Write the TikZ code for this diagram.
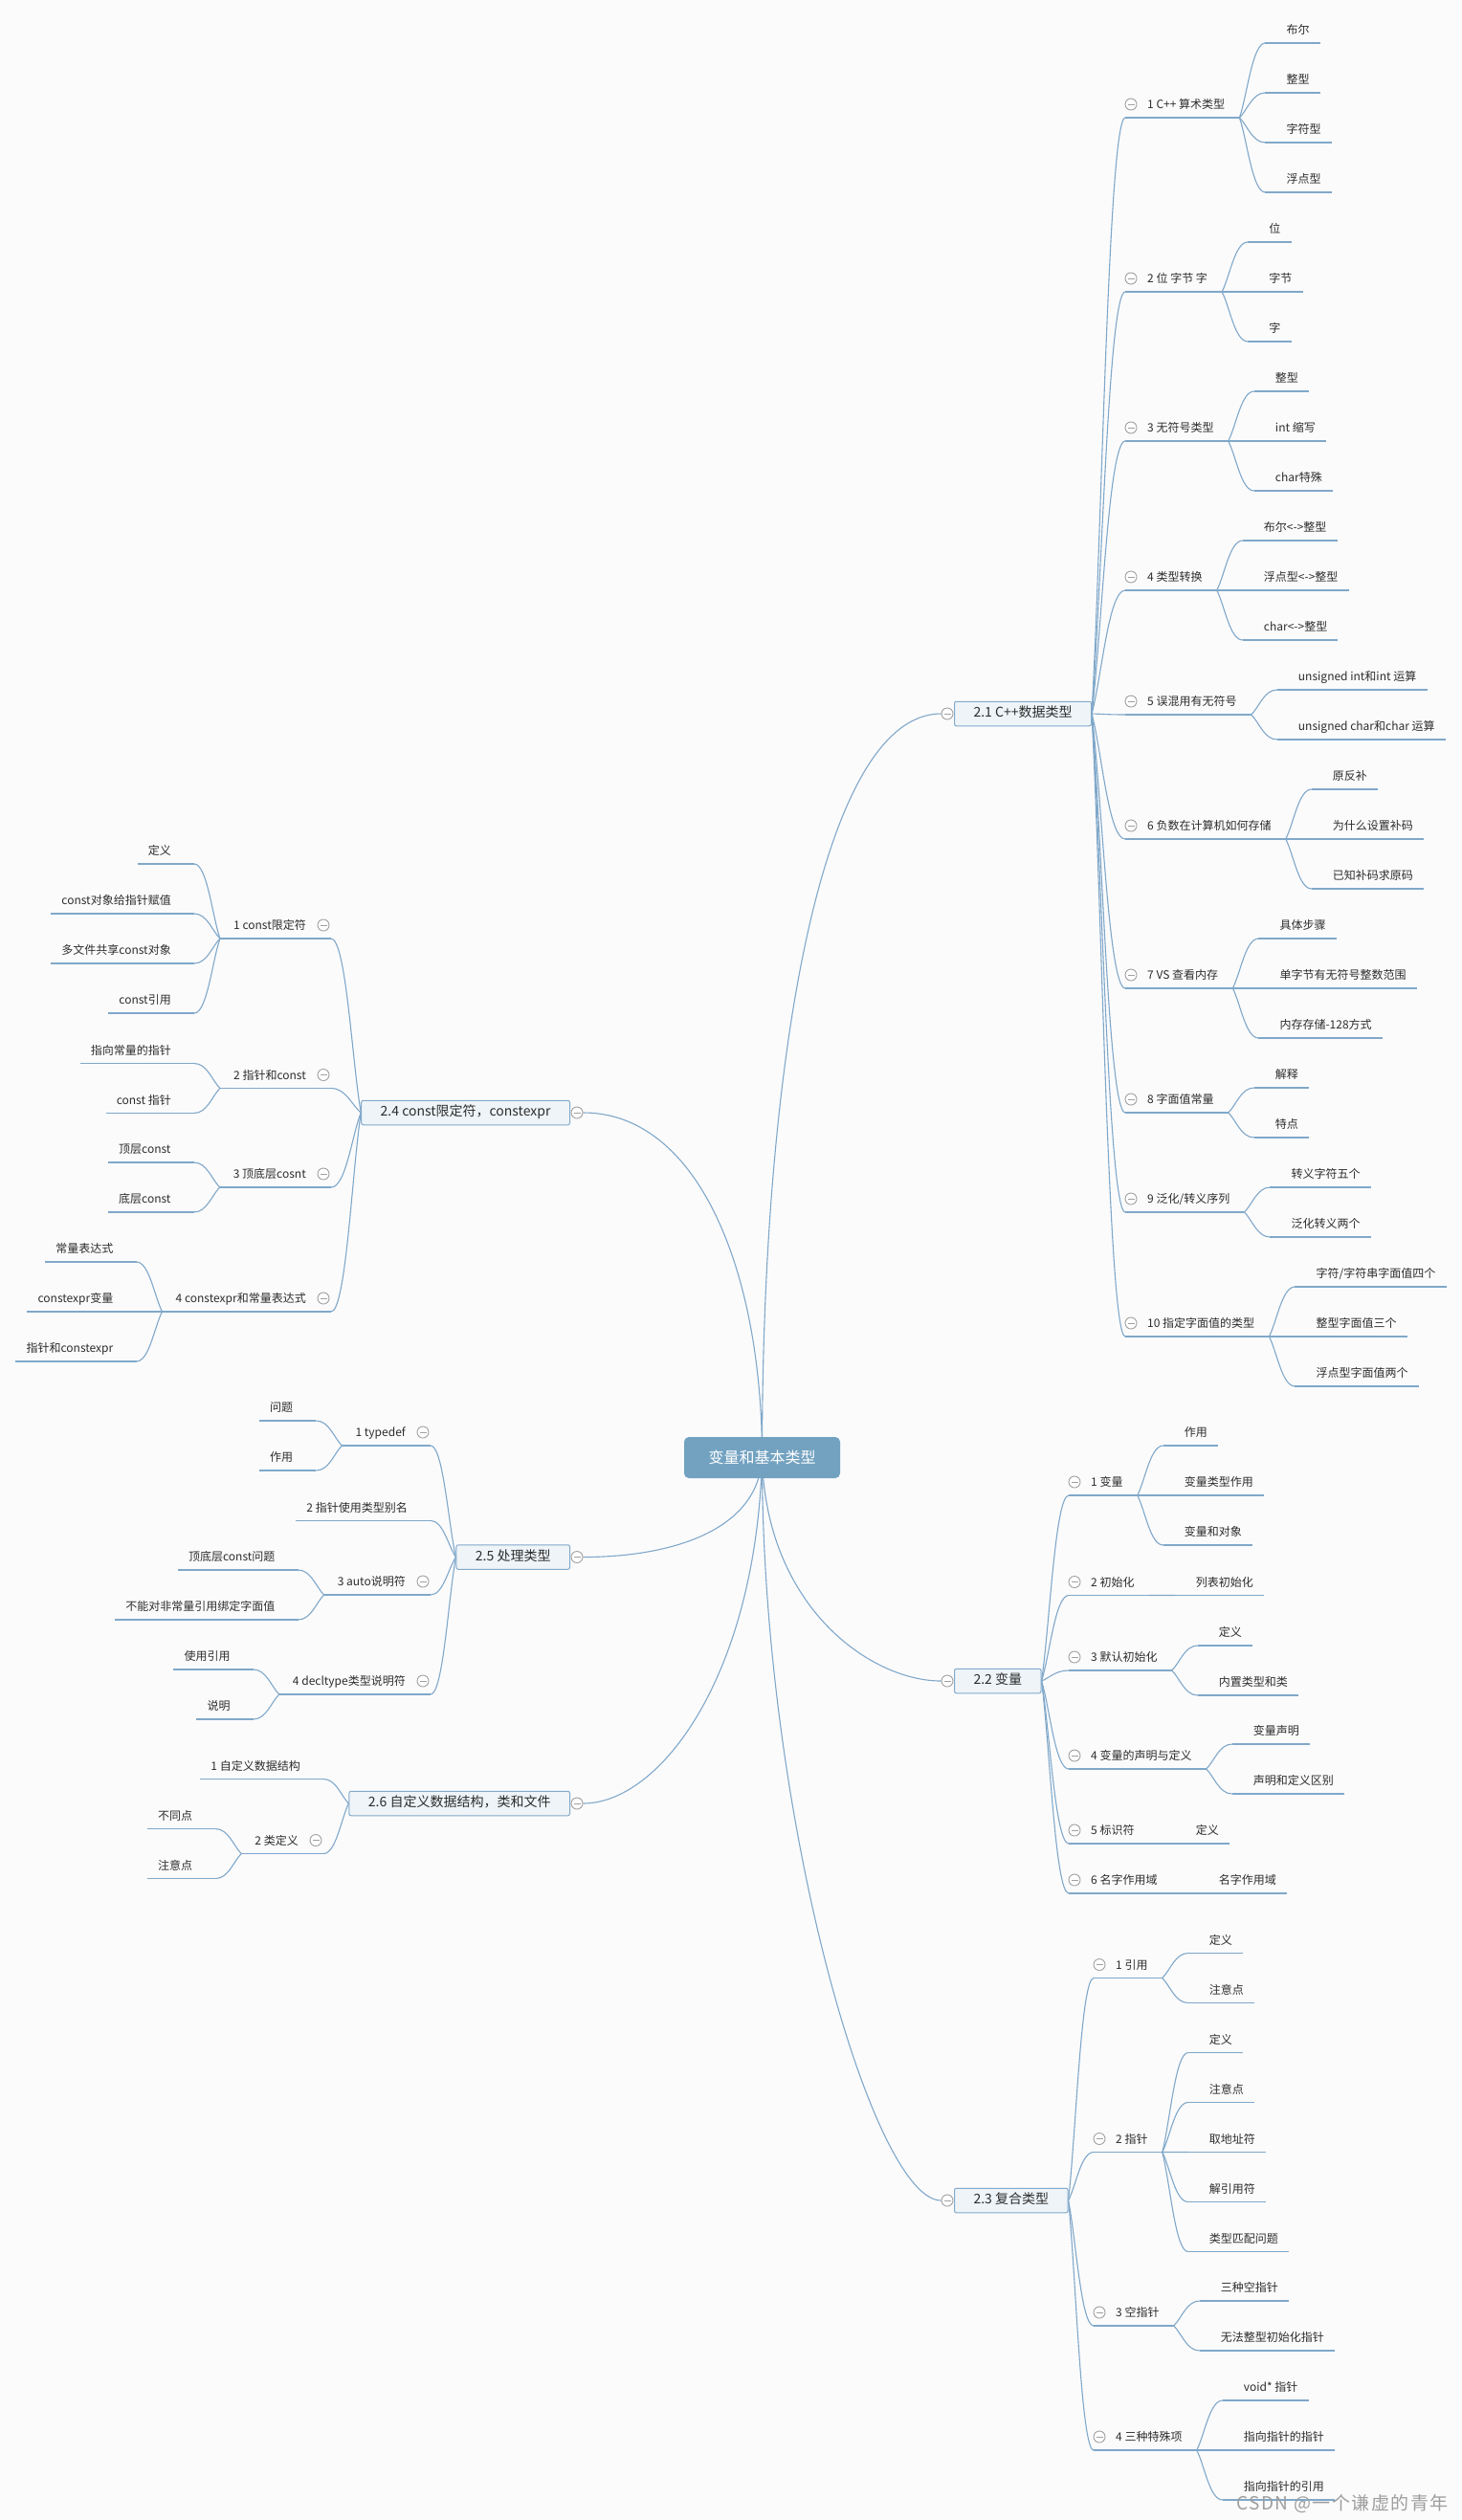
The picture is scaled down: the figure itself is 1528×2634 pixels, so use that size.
\documentclass[tikz,border=0pt]{standalone}
\usepackage{fontspec}
\setmainfont{Noto Sans CJK SC}
\usetikzlibrary{calc}
\definecolor{lc}{RGB}{128,168,201}
\definecolor{bgc}{RGB}{251,251,252}
\definecolor{rootc}{RGB}{115,162,193}
\definecolor{bfill}{RGB}{238,244,248}
\definecolor{bdraw}{RGB}{130,170,203}
\definecolor{cc}{RGB}{160,160,160}
\definecolor{tc}{RGB}{45,45,45}
\pgfdeclarelayer{bgl}
\pgfdeclarelayer{cl}
\pgfsetlayers{bgl,cl,main}
\tikzset{
  cline/.style={draw=lc, line width=1.1pt},
  sc/.style={to path={let \p1=(\tikztostart), \p2=(\tikztotarget) in
      .. controls ($(\p1)!0.3!(\p2)$) and (\x1/2+\x2/2,\y2) .. (\p2)}},
  ul/.style={draw=lc, line width=1.1pt},
  txt/.style={font=\fontsize{12}{14}\selectfont, text=tc, inner ysep=6pt,
      text height=9pt, text depth=3pt,
      append after command={(\tikzlastnode.south west) edge[ul] (\tikzlastnode.south east)}},
  rleaf/.style={txt, anchor=south west, inner xsep=11pt, execute at begin node={\hspace*{11pt}}},
  lleaf/.style={txt, anchor=south east, inner xsep=11pt, execute at end node={\hspace*{13pt}}},
  rmidst/.style={txt, anchor=south west, inner xsep=15pt, execute at begin node={\hspace*{8pt}}},
  lmidst/.style={txt, anchor=south east, inner xsep=14pt, execute at end node={\hspace*{12pt}}},
  coll/.style={circle, draw=cc, fill=white, line width=0.9pt, minimum size=12pt, inner sep=0pt,
      path picture={\draw[cc, line width=0.9pt]
        ($(path picture bounding box.west)+(2.5pt,0pt)$) -- ($(path picture bounding box.east)+(-2.5pt,0pt)$);}},
  bx/.style={draw=bdraw, fill=bfill, line width=1pt, rounded corners=2pt,
      font=\fontsize{14}{16}\selectfont, text=tc, inner xsep=20pt, inner ysep=6pt,
      text height=10.5pt, text depth=3pt},
  rootst/.style={fill=rootc, rounded corners=5pt, text=white, font=\fontsize{16}{18}\selectfont,
      minimum width=163pt, minimum height=43pt, inner sep=0pt},
}
% right level-2 node: name, parent, x, y, text
\newcommand\RMid[5]{%
  \node[rmidst] (#1) at (#3,#4) {#5};
  \node[coll] (k#1) at ($(#1.south west)+(6,-14)$) {};
  \begin{pgfonlayer}{cl}\draw[cline] (#2.east) to[sc] (#1.south west);\end{pgfonlayer}}
% left level-2 node with children
\newcommand\LMid[5]{%
  \node[lmidst] (#1) at (#3,#4) {#5};
  \node[coll] (k#1) at ($(#1.south east)+(-8,-14)$) {};
  \begin{pgfonlayer}{cl}\draw[cline] (#2.west) to[sc] (#1.south east);\end{pgfonlayer}}
% left level-2 node without children
\newcommand\LSolo[5]{%
  \node[lleaf] (#1) at (#3,#4) {#5};
  \begin{pgfonlayer}{cl}\draw[cline] (#2.west) to[sc] (#1.south east);\end{pgfonlayer}}
% leaves: parent, count, list
\newcommand\RKids[3]{%
  \foreach \lbl [count=\i] in {#3}{%
    \node[rleaf] (#1-\i) at ($(#1.south east)+(27,{(\i-(#2+1)/2)*52})$) {\lbl};
    \draw[cline] (#1.south east) to[sc] (#1-\i.south west);
  }}
\newcommand\LKids[3]{%
  \foreach \lbl [count=\i] in {#3}{%
    \node[lleaf] (#1-\i) at ($(#1.south west)+(-27,{(\i-(#2+1)/2)*52})$) {\lbl};
    \draw[cline] (#1.south west) to[sc] (#1-\i.south east);
  }}
\begin{document}
\begin{tikzpicture}[x=1pt, y=-1pt]
\useasboundingbox (0,0) rectangle (1528,2634);
\begin{pgfonlayer}{bgl}
  \fill[bgc] (0,0) rectangle (1528,2634);
\end{pgfonlayer}

% root and main branches
\node[rootst] (root) at (796.5,1523.5) {变量和基本类型};
\node[bx, anchor=west] (b21) at (997,746) {2.1 C++数据类型};
\node[bx, anchor=west] (b22) at (997,1757) {2.2 变量};
\node[bx, anchor=west] (b23) at (997,2300) {2.3 复合类型};
\node[bx, anchor=east] (b24) at (596,1163) {2.4 const限定符，constexpr};
\node[bx, anchor=east] (b25) at (596,1627.5) {2.5 处理类型};
\node[bx, anchor=east] (b26) at (596,1885) {2.6 自定义数据结构，类和文件};
\node[coll] (k21) at ($(b21.west)+(-7,0)$) {};
\node[coll] (k22) at ($(b22.west)+(-7,0)$) {};
\node[coll] (k23) at ($(b23.west)+(-7,0)$) {};
\node[coll] (k24) at ($(b24.east)+(7,0)$) {};
\node[coll] (k25) at ($(b25.east)+(7,0)$) {};
\node[coll] (k26) at ($(b26.east)+(7,0)$) {};

\begin{pgfonlayer}{cl}
\draw[cline] (root.center) .. controls ($(root.center)+(0,-423)$) and ($(k21.west)+(-123,0)$) .. (k21.west);
\draw[cline] (root.center) .. controls ($(root.center)+(0,-193)$) and ($(k24.east)+(121,0)$) .. (k24.east);
\draw[cline] (root.center) .. controls ($(root.center)+(-4,77)$) and ($(k25.east)+(91,0)$) .. (k25.east);
\draw[cline] (root.center) .. controls ($(root.center)+(4,157)$) and ($(k22.west)+(-73,0)$) .. (k22.west);
\draw[cline] (root.center) .. controls ($(root.center)+(-6,227)$) and ($(k26.east)+(81,0)$) .. (k26.east);
\draw[cline] (root.center) .. controls ($(root.center)+(0,377)$) and ($(k23.west)+(-71,0)$) .. (k23.west);
\end{pgfonlayer}

% 2.1
\RMid{p1}{b21}{1176}{123}{1 C++ 算术类型}
\RMid{p2}{b21}{1176}{305}{2 位 字节 字}
\RMid{p3}{b21}{1176}{461}{3 无符号类型}
\RMid{p4}{b21}{1176}{617}{4 类型转换}
\RMid{p5}{b21}{1176}{747}{5 误混用有无符号}
\RMid{p6}{b21}{1176}{877}{6 负数在计算机如何存储}
\RMid{p7}{b21}{1176}{1033}{7 VS 查看内存}
\RMid{p8}{b21}{1176}{1163}{8 字面值常量}
\RMid{p9}{b21}{1176}{1267}{9 泛化/转义序列}
\RMid{p10}{b21}{1176}{1397}{10 指定字面值的类型}
\RKids{p1}{4}{布尔,整型,字符型,浮点型}
\RKids{p2}{3}{位,字节,字}
\RKids{p3}{3}{整型,int 缩写,char特殊}
\RKids{p4}{3}{布尔<->整型,浮点型<->整型,char<->整型}
\RKids{p5}{2}{unsigned int和int 运算,unsigned char和char 运算}
\RKids{p6}{3}{原反补,为什么设置补码,已知补码求原码}
\RKids{p7}{3}{具体步骤,单字节有无符号整数范围,内存存储-128方式}
\RKids{p8}{2}{解释,特点}
\RKids{p9}{2}{转义字符五个,泛化转义两个}
\RKids{p10}{3}{字符/字符串字面值四个,整型字面值三个,浮点型字面值两个}

% 2.2
\RMid{q1}{b22}{1117}{1563}{1 变量}
\RMid{q2}{b22}{1117}{1667.5}{2 初始化}
\RMid{q3}{b22}{1117}{1746}{3 默认初始化}
\RMid{q4}{b22}{1117}{1849}{4 变量的声明与定义}
\RMid{q5}{b22}{1117}{1927}{5 标识符}
\RMid{q6}{b22}{1117}{1979}{6 名字作用域}
\RKids{q1}{3}{作用,变量类型作用,变量和对象}
\RKids{q2}{1}{列表初始化}
\RKids{q3}{2}{定义,内置类型和类}
\RKids{q4}{2}{变量声明,声明和定义区别}
\RKids{q5}{1}{定义}
\RKids{q6}{1}{名字作用域}

% 2.3
\RMid{r1}{b23}{1143}{2067.5}{1 引用}
\RMid{r2}{b23}{1143}{2249.5}{2 指针}
\RMid{r3}{b23}{1143}{2431}{3 空指针}
\RMid{r4}{b23}{1143}{2561}{4 三种特殊项}
\RKids{r1}{2}{定义,注意点}
\RKids{r2}{5}{定义,注意点,取地址符,解引用符,类型匹配问题}
\RKids{r3}{2}{三种空指针,无法整型初始化指针}
\RKids{r4}{3}{void* 指针,指向指针的指针,指向指针的引用}

% 2.4
\LMid{s1}{b24}{346}{981}{1 const限定符}
\LMid{s2}{b24}{346}{1137.5}{2 指针和const}
\LMid{s3}{b24}{346}{1241}{3 顶底层cosnt}
\LMid{s4}{b24}{346}{1371}{4 constexpr和常量表达式}
\LKids{s1}{4}{定义,const对象给指针赋值,多文件共享const对象,const引用}
\LKids{s2}{2}{指向常量的指针,const 指针}
\LKids{s3}{2}{顶层const,底层const}
\LKids{s4}{3}{常量表达式,constexpr变量,指针和constexpr}

% 2.5
\LMid{t1}{b25}{450}{1511}{1 typedef}
\LSolo{t2}{b25}{450}{1589.4}{2 指针使用类型别名}
\LMid{t3}{b25}{450}{1667}{3 auto说明符}
\LMid{t4}{b25}{450}{1771}{4 decltype类型说明符}
\LKids{t1}{2}{问题,作用}
\LKids{t3}{2}{顶底层const问题,不能对非常量引用绑定字面值}
\LKids{t4}{2}{使用引用,说明}

% 2.6
\LSolo{u1}{b26}{338}{1859.5}{1 自定义数据结构}
\LMid{u2}{b26}{338}{1937.5}{2 类定义}
\LKids{u2}{2}{不同点,注意点}

% watermark
\node[anchor=east, inner sep=0pt, text=black!38,
  font=\fontsize{19}{22}\selectfont\addfontfeatures{LetterSpace=8}] (wm) at (1514,2617) {CSDN @一个谦虚的青年};
\end{tikzpicture}
\end{document}
